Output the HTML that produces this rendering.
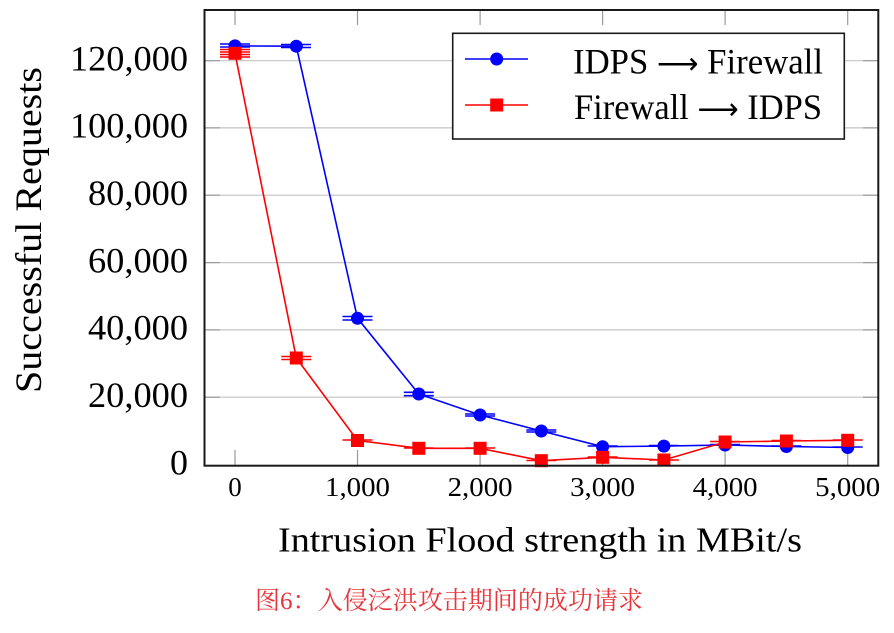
<!DOCTYPE html>
<html>
<head>
<meta charset="utf-8">
<style>
html,body{margin:0;padding:0;background:#fff;}
svg{display:block;}
</style>
</head>
<body>
<svg width="894" height="633" viewBox="0 0 894 633" xmlns="http://www.w3.org/2000/svg">
<rect x="0" y="0" width="894" height="633" fill="#fff"/>
<!-- grid -->
<g stroke="#c4c4c4" stroke-width="1.2">
<line x1="205" y1="60.7" x2="878" y2="60.7"/>
<line x1="205" y1="127.9" x2="878" y2="127.9"/>
<line x1="205" y1="195.2" x2="878" y2="195.2"/>
<line x1="205" y1="262.6" x2="878" y2="262.6"/>
<line x1="205" y1="329.9" x2="878" y2="329.9"/>
<line x1="205" y1="397.2" x2="878" y2="397.2"/>
</g>
<!-- y ticks -->
<g stroke="#9a9a9a" stroke-width="1.2">
<line x1="205" y1="60.7" x2="220" y2="60.7"/><line x1="863" y1="60.7" x2="878" y2="60.7"/>
<line x1="205" y1="127.9" x2="220" y2="127.9"/><line x1="863" y1="127.9" x2="878" y2="127.9"/>
<line x1="205" y1="195.2" x2="220" y2="195.2"/><line x1="863" y1="195.2" x2="878" y2="195.2"/>
<line x1="205" y1="262.6" x2="220" y2="262.6"/><line x1="863" y1="262.6" x2="878" y2="262.6"/>
<line x1="205" y1="329.9" x2="220" y2="329.9"/><line x1="863" y1="329.9" x2="878" y2="329.9"/>
<line x1="205" y1="397.2" x2="220" y2="397.2"/><line x1="863" y1="397.2" x2="878" y2="397.2"/>
<!-- x ticks -->
<line x1="235" y1="10" x2="235" y2="25"/><line x1="235" y1="450" x2="235" y2="465"/>
<line x1="357.5" y1="10" x2="357.5" y2="25"/><line x1="357.5" y1="450" x2="357.5" y2="465"/>
<line x1="480.1" y1="10" x2="480.1" y2="25"/><line x1="480.1" y1="450" x2="480.1" y2="465"/>
<line x1="602.6" y1="10" x2="602.6" y2="25"/><line x1="602.6" y1="450" x2="602.6" y2="465"/>
<line x1="725.1" y1="10" x2="725.1" y2="25"/><line x1="725.1" y1="450" x2="725.1" y2="465"/>
<line x1="847.7" y1="10" x2="847.7" y2="25"/><line x1="847.7" y1="450" x2="847.7" y2="465"/>
</g>

<!-- blue series -->
<g stroke="#0000ff" stroke-width="1.6" fill="none">
<polyline points="235,45.9 296.3,46.2 357.5,318.3 418.8,394 480.1,415 541.3,431 602.6,446.7 663.9,446.1 725.1,445 786.4,446.5 847.7,447.5"/>
<g stroke-width="1.6">
<line x1="220" y1="44" x2="250" y2="44"/><line x1="220" y1="47" x2="250" y2="47"/>
<line x1="281" y1="44.5" x2="311" y2="44.5"/><line x1="281" y1="47.5" x2="311" y2="47.5"/>
<line x1="342.5" y1="316.5" x2="372.5" y2="316.5"/><line x1="342.5" y1="320" x2="372.5" y2="320"/>
<line x1="403.8" y1="392.3" x2="433.8" y2="392.3"/><line x1="403.8" y1="395.7" x2="433.8" y2="395.7"/>
<line x1="465.1" y1="414" x2="495.1" y2="414"/><line x1="465.1" y1="416" x2="495.1" y2="416"/>
<line x1="526.3" y1="430" x2="556.3" y2="430"/><line x1="526.3" y1="432" x2="556.3" y2="432"/>
<line x1="587.6" y1="446" x2="617.6" y2="446"/>
<line x1="648.9" y1="445.5" x2="678.9" y2="445.5"/>
<line x1="710.1" y1="444.5" x2="740.1" y2="444.5"/>
<line x1="771.4" y1="446" x2="801.4" y2="446"/>
<line x1="832.7" y1="447" x2="862.7" y2="447"/>
</g>
</g>
<g fill="#0000ff">
<circle cx="235" cy="45.9" r="6.5"/><circle cx="296.3" cy="46.2" r="6.5"/><circle cx="357.5" cy="318.3" r="6.5"/>
<circle cx="418.8" cy="394" r="6.5"/><circle cx="480.1" cy="415" r="6.5"/><circle cx="541.3" cy="431" r="6.5"/>
<circle cx="602.6" cy="446.7" r="6.5"/><circle cx="663.9" cy="446.1" r="6.5"/><circle cx="725.1" cy="445" r="6.5"/>
<circle cx="786.4" cy="446.5" r="6.5"/><circle cx="847.7" cy="447.5" r="6.5"/>
</g>

<!-- red series -->
<g stroke="#ff0000" stroke-width="1.6" fill="none">
<polyline points="235,53.3 296.3,358 357.5,440.5 418.8,448.3 480.1,448.3 541.3,460.7 602.6,457.3 663.9,460 725.1,442 786.4,441 847.7,440.3"/>
<line x1="220" y1="49.5" x2="250" y2="49.5"/><line x1="220" y1="52" x2="250" y2="52"/>
<line x1="220" y1="54.5" x2="250" y2="54.5"/><line x1="220" y1="57" x2="250" y2="57"/>
<line x1="281.3" y1="356.5" x2="311.3" y2="356.5"/><line x1="281.3" y1="359.5" x2="311.3" y2="359.5"/>
<line x1="342.5" y1="440" x2="372.5" y2="440"/>
<line x1="403.8" y1="448" x2="433.8" y2="448"/>
<line x1="465.1" y1="448" x2="495.1" y2="448"/>
<line x1="526.3" y1="460.5" x2="556.3" y2="460.5"/>
<line x1="587.6" y1="457" x2="617.6" y2="457"/>
<line x1="648.9" y1="460" x2="678.9" y2="460"/>
<line x1="710.1" y1="441.5" x2="740.1" y2="441.5"/>
<line x1="771.4" y1="440.5" x2="801.4" y2="440.5"/>
<line x1="832.7" y1="440" x2="862.7" y2="440"/>
</g>
<g fill="#ff0000">
<rect x="228.5" y="46.8" width="13" height="13"/>
<rect x="289.8" y="351.5" width="13" height="13"/>
<rect x="351" y="434" width="13" height="13"/>
<rect x="412.3" y="441.8" width="13" height="13"/>
<rect x="473.6" y="441.8" width="13" height="13"/>
<rect x="534.8" y="454.2" width="13" height="13"/>
<rect x="596.1" y="450.8" width="13" height="13"/>
<rect x="657.4" y="453.5" width="13" height="13"/>
<rect x="718.6" y="435.5" width="13" height="13"/>
<rect x="779.9" y="434.5" width="13" height="13"/>
<rect x="841.2" y="433.8" width="13" height="13"/>
</g>

<!-- frame -->
<rect x="204.5" y="10" width="673.8" height="455.7" fill="none" stroke="#1a1a1a" stroke-width="2"/>

<!-- legend -->
<rect x="452.7" y="33.3" width="391.6" height="105.7" fill="#fff" stroke="#1a1a1a" stroke-width="1.6"/>
<line x1="465" y1="59" x2="528" y2="59" stroke="#0000ff" stroke-width="1.6"/>
<circle cx="496.7" cy="59" r="6.5" fill="#0000ff"/>
<line x1="465" y1="105" x2="528" y2="105" stroke="#ff0000" stroke-width="1.6"/>
<rect x="490.2" y="98.5" width="13" height="13" fill="#ff0000"/>
<g font-family="'Liberation Serif', serif" fill="#000">
<text x="573" y="73.3" font-size="36" textLength="250" lengthAdjust="spacingAndGlyphs">IDPS <tspan font-family="'DejaVu Sans', sans-serif" font-size="30">⟶</tspan> Firewall</text>
<text x="574" y="119" font-size="36" textLength="248" lengthAdjust="spacingAndGlyphs">Firewall <tspan font-family="'DejaVu Sans', sans-serif" font-size="30">⟶</tspan> IDPS</text>

<!-- y tick labels -->
<g font-size="36" text-anchor="end">
<text x="188" y="70.5" textLength="118" lengthAdjust="spacingAndGlyphs">120,000</text>
<text x="188" y="137.7" textLength="118" lengthAdjust="spacingAndGlyphs">100,000</text>
<text x="188" y="205" textLength="100" lengthAdjust="spacingAndGlyphs">80,000</text>
<text x="188" y="272.4" textLength="100" lengthAdjust="spacingAndGlyphs">60,000</text>
<text x="188" y="339.7" textLength="100" lengthAdjust="spacingAndGlyphs">40,000</text>
<text x="188" y="407" textLength="100" lengthAdjust="spacingAndGlyphs">20,000</text>
<text x="188" y="474.4">0</text>
</g>
<!-- x tick labels -->
<g font-size="27" text-anchor="middle">
<text x="235" y="496">0</text>
<text x="357.5" y="496" textLength="65" lengthAdjust="spacingAndGlyphs">1,000</text>
<text x="480.1" y="496" textLength="65" lengthAdjust="spacingAndGlyphs">2,000</text>
<text x="602.6" y="496" textLength="65" lengthAdjust="spacingAndGlyphs">3,000</text>
<text x="725.1" y="496" textLength="65" lengthAdjust="spacingAndGlyphs">4,000</text>
<text x="847.7" y="496" textLength="65" lengthAdjust="spacingAndGlyphs">5,000</text>
</g>
<!-- axis labels -->
<text x="278" y="551.7" font-size="35" textLength="524" lengthAdjust="spacingAndGlyphs">Intrusion Flood strength in MBit/s</text>
<text transform="translate(41,230) rotate(-90)" x="0" y="0" font-size="37" text-anchor="middle" textLength="326" lengthAdjust="spacingAndGlyphs">Successful Requests</text>
</g>
<!-- caption -->
<text x="255" y="609" font-family="'Liberation Serif','Noto Serif CJK SC','Noto Sans CJK SC',serif" font-size="25" fill="#e8343a" textLength="388" lengthAdjust="spacingAndGlyphs">图6：入侵泛洪攻击期间的成功请求</text>
</svg>
</body>
</html>
